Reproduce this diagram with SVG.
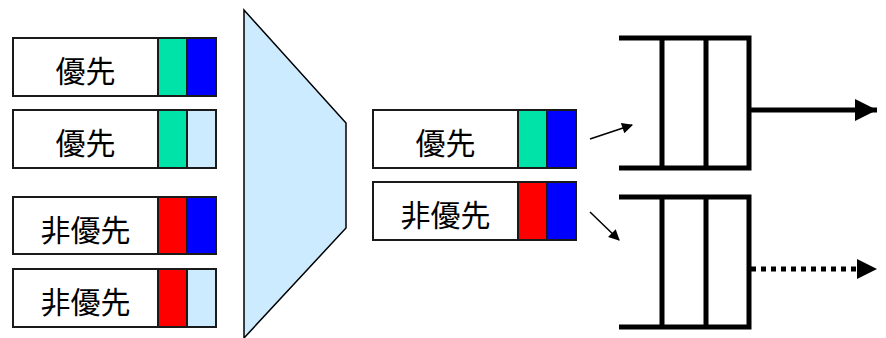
<svg xmlns="http://www.w3.org/2000/svg" width="886" height="338" viewBox="0 0 886 338">
<defs>
<style>
.box{fill:#fff;stroke:#1a1a1a;stroke-width:2}
.cell{stroke:#1a1a1a;stroke-width:2}
.g{fill:#00E3A8}.b{fill:#0000FF}.r{fill:#FF0000}.lb{fill:#CCEBFF}
.t{font-family:"Noto Sans CJK JP","Noto Sans CJK SC",sans-serif;font-size:30px;fill:#000;text-anchor:middle;dominant-baseline:central}
.q{fill:none;stroke:#000;stroke-width:5}
.thin{stroke:#000;stroke-width:1.5;fill:none}
</style>
<marker id="ah" viewBox="0 0 10 10" refX="9" refY="5" markerWidth="13" markerHeight="11" markerUnits="userSpaceOnUse" orient="auto"><path d="M0,0L10,5L0,10z" fill="#000"/></marker>
<marker id="ah2" viewBox="0 0 10 10" refX="10" refY="5" markerWidth="4.4" markerHeight="4.4" orient="auto"><path d="M0,0L10,5L0,10z" fill="#000"/></marker>
</defs>
<g id="mux"><polygon points="244,10 346,123 346,228 244,338" fill="#CCEBFF" stroke="#000" stroke-width="1.5"/></g>
<g id="p1"><rect class="box" x="13" y="38" width="203" height="58"/><rect class="cell g" x="158" y="38" width="29" height="58"/><rect class="cell b" x="187" y="38" width="29" height="58"/><text class="t" x="85.5" y="69">優先</text></g>
<g id="p2"><rect class="box" x="13" y="110" width="203" height="58"/><rect class="cell g" x="158" y="110" width="29" height="58"/><rect class="cell lb" x="187" y="110" width="29" height="58"/><text class="t" x="85.5" y="141">優先</text></g>
<g id="n1"><rect class="box" x="13" y="197" width="203" height="57"/><rect class="cell r" x="158" y="197" width="29" height="57"/><rect class="cell b" x="187" y="197" width="29" height="57"/><text class="t" x="85.5" y="227.5">非優先</text></g>
<g id="n2"><rect class="box" x="13" y="269" width="203" height="58"/><rect class="cell r" x="158" y="269" width="29" height="58"/><rect class="cell lb" x="187" y="269" width="29" height="58"/><text class="t" x="85.5" y="300">非優先</text></g>
<g id="mp"><rect class="box" x="373" y="110" width="203" height="58"/><rect class="cell g" x="518" y="110" width="29" height="58"/><rect class="cell b" x="547" y="110" width="29" height="58"/><text class="t" x="445.5" y="141">優先</text></g>
<g id="mn"><rect class="box" x="373" y="182" width="203" height="58"/><rect class="cell r" x="518" y="182" width="29" height="58"/><rect class="cell b" x="547" y="182" width="29" height="58"/><text class="t" x="445.5" y="213">非優先</text></g>
<g id="q1"><path class="q" d="M619,38H749V168H619M662,38V168M706,38V168"/></g>
<g id="q2"><path class="q" d="M619,197H749V327H619M662,197V327M706,197V327"/></g>
<g id="connectors">
<line class="thin" x1="590" y1="139" x2="632" y2="125" marker-end="url(#ah)"/>
<line class="thin" x1="590" y1="212" x2="619" y2="240" marker-end="url(#ah)"/>
<line x1="749" y1="110" x2="877" y2="110" stroke="#000" stroke-width="5" marker-end="url(#ah2)"/>
<line x1="751" y1="269" x2="862" y2="269" stroke="#000" stroke-width="5" stroke-dasharray="5 5"/>
<path d="M857,259L877,269L857,279z" fill="#000"/>
</g>
</svg>
